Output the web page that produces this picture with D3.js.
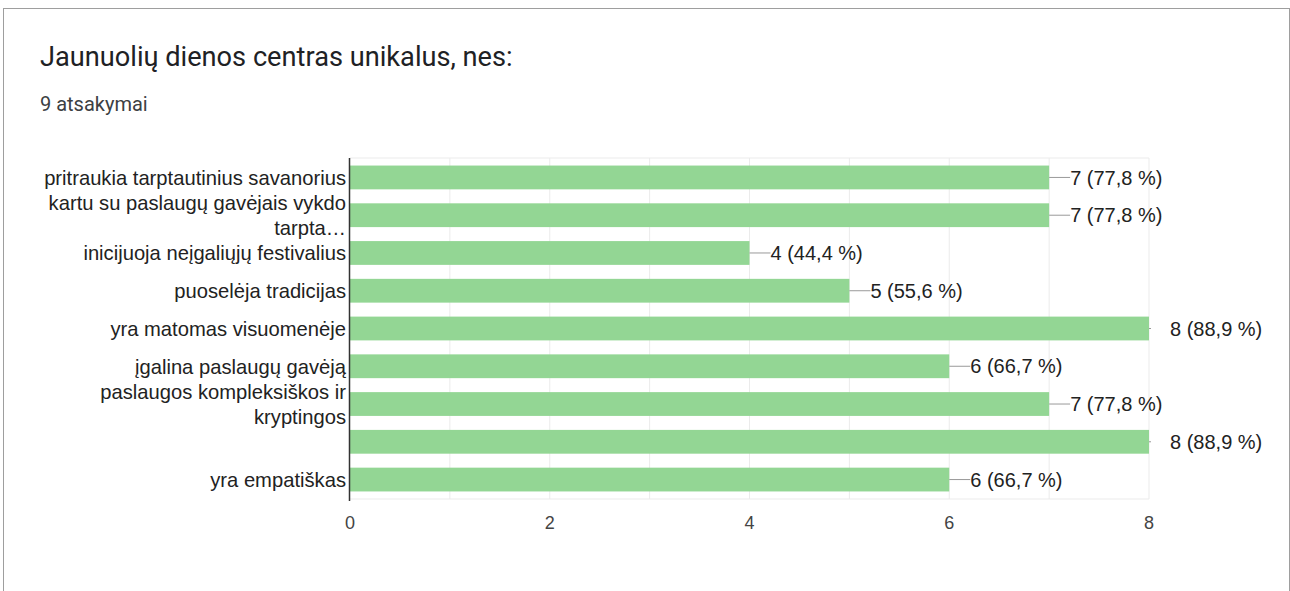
<!DOCTYPE html>
<html>
<head>
<meta charset="utf-8">
<script src="https://cdn.jsdelivr.net/npm/d3@7"></script>
<style>
  body { margin: 0; background: #fff; }
  svg { display: block; }
</style>
</head>
<body>
<svg id="chart" width="1290" height="591"></svg>
<script>
// chart data
var title = 'Jaunuolių dienos centras unikalus, nes:';
var subtitle = '9 atsakymai';
var categories = [
    ['pritraukia tarptautinius savanorius'],
    ['kartu su paslaugų gavėjais vykdo', 'tarpta…'],
    ['inicijuoja neįgaliųjų festivalius'],
    ['puoselėja tradicijas'],
    ['yra matomas visuomenėje'],
    ['įgalina paslaugų gavėją'],
    ['paslaugos kompleksiškos ir', 'kryptingos'],
    [''],
    ['yra empatiškas']
];
var counts = [7, 7, 4, 5, 8, 6, 7, 8, 6];
var percents = ['77,8', '77,8', '44,4', '55,6', '88,9', '66,7', '77,8', '88,9', '66,7'];
var ticks = [0, 2, 4, 6, 8];

var svg = d3.select('#chart');
var width = +svg.attr('width');
var height = +svg.attr('height');

var font = '"Liberation Sans", Arial, sans-serif';

// card border
svg.append('rect')
    .attr('x', 3.5).attr('y', 8.5)
    .attr('width', width - 4).attr('height', height)
    .attr('fill', '#fff')
    .attr('stroke', '#9e9e9e')
    .attr('stroke-width', 1);

svg.append('text')
    .attr('x', 40).attr('y', 66)
    .attr('font-family', 'Roboto, sans-serif')
    .attr('font-size', 27.2)
    .attr('fill', '#202124')
    .text(title);

svg.append('text')
    .attr('x', 40).attr('y', 111)
    .attr('font-family', 'Roboto, sans-serif')
    .attr('font-size', 20)
    .attr('fill', '#3c4043')
    .text(subtitle);

var plot = {l: 350, r: 1149, t: 158, b: 499};

var xScale = d3.scaleLinear().domain([0, 8]).range([plot.l, plot.r]);
var yScale = d3.scaleBand()
    .domain(d3.range(categories.length))
    .range([plot.t, plot.b])
    .paddingInner(0.37)
    .paddingOuter(0.2);

// gridlines every unit
var gridG = svg.append('g');
gridG.selectAll('line')
    .data(d3.range(1, 9))
    .enter().append('line')
    .attr('x1', function(d) { return xScale(d); })
    .attr('x2', function(d) { return xScale(d); })
    .attr('y1', plot.t).attr('y2', plot.b)
    .attr('stroke', '#ebebeb');
gridG.append('line')
    .attr('x1', plot.l).attr('x2', plot.r)
    .attr('y1', plot.t).attr('y2', plot.t)
    .attr('stroke', '#ebebeb');
gridG.append('line')
    .attr('x1', plot.l).attr('x2', plot.r)
    .attr('y1', plot.b).attr('y2', plot.b)
    .attr('stroke', '#ebebeb');

// bars
svg.append('g').selectAll('rect')
    .data(counts)
    .enter().append('rect')
    .attr('x', xScale(0))
    .attr('y', function(d, i) { return yScale(i); })
    .attr('width', function(d) { return xScale(d) - xScale(0); })
    .attr('height', yScale.bandwidth())
    .attr('fill', '#93d694');

// value labels with leader lines
var valG = svg.append('g');
counts.forEach(function(d, i) {
    var x = xScale(d);
    var cy = yScale(i) + yScale.bandwidth() / 2;
    valG.append('line')
        .attr('x1', x).attr('x2', Math.min(x + 21, plot.r + 2))
        .attr('y1', cy).attr('y2', cy)
        .attr('stroke', '#999');
    valG.append('text')
        .attr('x', x + 21)
        .attr('y', cy)
        .attr('dy', '0.36em')
        .attr('font-family', font)
        .attr('font-size', 20)
        .attr('fill', '#222')
        .text(d + ' (' + percents[i] + ' %)');
});

// category labels
var catG = svg.append('g');
categories.forEach(function(lines, i) {
    var cy = yScale(i) + yScale.bandwidth() / 2;
    var lh = 25;
    var start = cy - (lines.length - 1) * lh / 2;
    lines.forEach(function(line, j) {
        catG.append('text')
            .attr('x', plot.l - 4)
            .attr('y', start + j * lh)
            .attr('dy', '0.36em')
            .attr('text-anchor', 'end')
            .attr('font-family', font)
            .attr('font-size', 20.2)
            .attr('fill', '#222')
            .text(line);
    });
});

// y axis line
svg.append('line')
    .attr('x1', plot.l - 0.5).attr('x2', plot.l - 0.5)
    .attr('y1', plot.t).attr('y2', plot.b + 2)
    .attr('stroke', '#333')
    .attr('stroke-width', 1.5);

// x tick labels
svg.append('g').selectAll('text')
    .data(ticks)
    .enter().append('text')
    .attr('x', function(d) { return xScale(d); })
    .attr('y', 529)
    .attr('text-anchor', 'middle')
    .attr('font-family', font)
    .attr('font-size', 18)
    .attr('fill', '#444')
    .text(function(d) { return d; });
</script>
</body>
</html>
